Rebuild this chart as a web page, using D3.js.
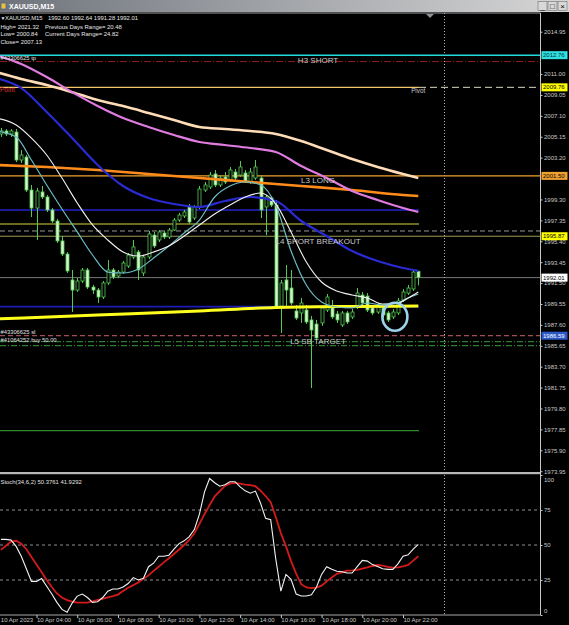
<!DOCTYPE html>
<html><head><meta charset="utf-8">
<script src="https://cdn.jsdelivr.net/npm/d3@7"></script>
<style>html,body{margin:0;padding:0;background:#000;overflow:hidden}text{font-family:"Liberation Sans",Arial,sans-serif}</style>
</head><body><svg id="c" width="569" height="625"></svg>
<script>
// ---------------- DATA ----------------
const symbol = "XAUUSD,M15";
const openP = [2005.41,2005.69,2005.41,2005.59,2002.98,2003.26,2000.18,1998.50,2000.00,1999.53,
1998.32,1997.29,1995.43,1994.21,1991.79,1990.85,1991.69,1992.72,1991.13,1990.85,
1990.20,1991.51,1992.72,1992.16,1992.53,1993.09,1993.93,1994.40,1992.44,1993.93,
1995.98,1995.52,1996.17,1995.80,1996.45,1997.38,1997.76,1998.60,1997.57,1998.60,
2000.18,2000.46,2001.68,2000.65,2001.40,2001.12,2001.86,2001.58,2001.77,2000.93,
2001.30,2001.30,1998.60,1999.44,1998.78,1989.36,1991.79,1991.04,1988.90,1988.71,
1988.99,1988.06,1987.68,1987.78,1988.99,1989.18,1988.62,1987.59,1988.71,1988.34,
1989.27,1990.39,1990.29,1989.18,1988.80,1989.18,1988.71,1988.34,1988.71,1989.92,
1990.57,1990.95,1992.60];
const highP = [2005.97,2005.87,2005.87,2005.87,2003.91,2003.45,2000.65,2000.37,2000.56,1999.72,
1998.50,1997.48,1995.89,1994.40,1992.72,1991.97,1992.91,1992.91,1991.32,1991.04,
1991.69,1993.65,1992.91,1992.72,1993.56,1994.30,1995.52,1994.58,1994.12,1996.36,
1996.27,1996.45,1996.36,1996.64,1997.57,1998.04,1998.32,1998.88,1998.78,2000.56,
2000.93,2001.86,2002.05,2001.58,2001.86,2002.33,2002.14,2002.89,2002.05,2002.23,
2002.98,2001.58,1999.72,1999.62,1999.25,1991.79,1993.19,1992.72,1989.45,1990.11,
1989.45,1988.43,1988.06,1989.36,1990.48,1989.92,1988.90,1988.90,1988.90,1989.08,
1991.04,1990.67,1990.57,1989.36,1989.64,1989.36,1988.90,1989.08,1990.11,1990.95,
1991.32,1992.81,1992.64];
const lowP = [2005.13,2005.22,2005.13,2002.79,2002.70,2000.00,1997.66,1995.52,1999.34,1998.13,
1997.11,1995.24,1994.02,1992.44,1988.80,1990.67,1991.51,1990.95,1990.48,1989.64,
1990.01,1991.32,1991.88,1991.97,1992.35,1992.91,1993.74,1991.79,1992.16,1993.74,
1994.77,1995.33,1995.61,1995.61,1996.36,1997.20,1997.57,1997.01,1997.38,1998.41,
2000.00,2000.28,2000.46,2000.46,2000.74,2000.93,2001.12,2001.40,2000.84,2000.74,
2001.12,1997.57,1995.98,1998.60,1989.18,1986.84,1989.18,1989.45,1988.06,1987.78,
1987.68,1981.71,1986.19,1987.50,1988.80,1988.15,1987.78,1987.40,1987.68,1988.15,
1989.08,1989.36,1988.80,1988.52,1988.62,1988.24,1987.87,1988.15,1988.52,1989.73,
1990.39,1990.76,1991.28];
const closeP = [2005.69,2005.41,2005.69,2002.98,2003.45,2000.18,1998.50,2000.09,1999.53,1998.32,
1997.29,1995.43,1994.21,1992.63,1990.85,1991.69,1992.72,1991.13,1990.85,1990.20,
1991.51,1992.72,1992.07,1992.53,1993.37,1994.12,1994.87,1992.72,1993.93,1996.08,
1994.96,1996.27,1995.80,1996.45,1997.38,1997.85,1998.13,1997.20,1998.60,2000.28,
2000.65,2001.58,2000.65,2001.30,2000.93,2002.05,2001.30,2002.33,2000.93,2001.86,
2002.33,1998.32,1999.53,1998.78,1989.27,1991.51,1990.85,1989.64,1988.24,1989.64,
1987.87,1987.12,1986.38,1989.18,1990.20,1988.34,1988.06,1988.71,1987.87,1988.80,
1990.57,1989.64,1988.99,1988.71,1989.45,1988.52,1988.06,1988.80,1989.83,1990.67,
1991.04,1992.53,1992.01];

// moving averages, read at bar indices (index 0 = 10 Apr 02:15)
const slowIdx = [-1,4,9,14,19,24,29,34,39,44,49,54,59,64,69,74,79,82];
const peachMA = [2011.19,2010.54,2009.98,2009.31,2008.57,2008.01,2007.37,2006.71,2006.06,2005.87,2005.69,2005.41,2004.75,2003.91,2003.07,2002.33,2001.67,2001.30];
const violetMA = [2012.78,2011.94,2010.72,2009.31,2008.02,2006.90,2006.06,2005.31,2004.66,2004.38,2004.10,2003.73,2002.42,2001.30,2000.09,1999.25,1998.50,1998.13];
const blueMA = [2010.63,2009.69,2007.46,2005.03,2002.52,2000.56,1999.44,1998.88,1998.60,1999.16,1999.53,1999.16,1997.29,1995.89,1994.49,1993.56,1992.91,1992.63];
const orangeIdx = [-1,9,19,29,39,49,59,69,79,82];
const orangeMA = [2002.52,2002.33,2002.05,2001.68,2001.30,2000.93,2000.56,2000.18,1999.72,1999.62];
const fastIdx = [-1,3,6,9,12,15,18,21,24,27,30,33,36,39,42,45,48,51,54,57,60,63,66,69,72,75,78,80,82];
const whiteMA = [2006.90,2006.25,2005.03,2003.45,2001.30,1998.97,1996.92,1995.52,1994.40,1994.02,1994.40,1994.96,1995.89,1996.92,1997.94,1998.78,1999.53,1999.90,1998.88,1996.27,1993.47,1991.60,1990.76,1990.39,1990.11,1989.55,1989.64,1990.11,1990.67];
const tealMA = [2005.69,2005.12,2002.98,2000.65,1998.41,1996.27,1994.12,1992.53,1992.44,1992.81,1993.84,1994.96,1996.17,1997.38,1999.53,2000.56,2000.93,2000.65,1998.78,1994.49,1991.32,1989.74,1989.27,1989.18,1989.64,1989.45,1989.64,1990.11,1990.48];
const yellowIdx = [-1,19,39,54,69,82];
const yellowMA = [1988.15,1988.52,1988.89,1989.22,1989.32,1989.36];

// stochastic (34,6,2)
const stochK = [54,54,53.5,49,42,33,24,24,26,20.5, 15,9,4,2,8.5,13.5,15,12.5,9,9.5,
12.5,17,18.6,18.6,20,22.5,26.7,25,26.2,34.5, 37,42,42,42.7,47,51,53,56,61,72,
88,97.5,94.5,92,93,95.2,95.2,91.5,88.7,87, 88.5,80,69,68,40,17,29,25.5,15,13.6,
13.6,14.5,20,29,34.5,32.6,31.3,30.9,30,30, 34.5,39,38.5,36,34.7,33,32.6,32.6,36.5,42,
43,47,50.38];
const stochD = [46.5,49.5,52.5,53,51,47,41.5,36,30.5,25, 20,15.4,12.5,10.6,9.5,8.8,8.8,8.9,9.8,10.8,
11.5,12.6,13.5,14.6,17.2,19.5,21.3,23.3,25.8,28.3, 31.5,34.5,37.6,40.5,43.6,46.8,50,53.6,58.4,65,
72,78.5,84.7,88.5,92.2,93.8,94.4,93.8,93.2,92.8, 92,88.8,85,80.5,70,58.5,49,38.5,29.5,22,
19.7,19.2,19.5,21,24,26.8,29.4,30.5,31.7,31.9, 32.2,33.2,34.1,35,35.7,35.2,34.4,33.9,34,34.7,
35.8,38.8,41.93];
const stochLevels = [75,50,25];
const stochTicks = [100,75,50,25,0];

// horizontal objects
const hlinePrices = [2012.76,2012.17,2009.76,2001.50,1998.32,1997.01,1996.36,1995.87,1992.01,1989.30,1986.59,1986.03,1985.66,1977.73];
const boxPrices = [2012.76,2009.76,2001.50,1995.87,1992.01,1986.59];
const levelTexts = ["H3 SHORT","L3 LONG","L4 SHORT BREAKOUT","L5 SB TARGET"];
const levelTextPrices = [2012.30,2001.12,1995.43,1986.10];
const orderTexts = ["#43306625 tp","#43306625 sl","#41064252 buy 50.00"];
const orderTextPrices = [2012.50,1986.96,1986.19];
const circleMark = {idx:77.4, price:1988.36};

const priceTicks = [2014.95,2011.00,2009.05,2007.10,2005.15,2003.20,1999.30,1997.35,1995.40,1993.45,1991.50,1989.55,1987.60,1985.65,1983.70,1981.75,1979.80,1977.85,1975.90,1973.95];
const timeLabels = ["10 Apr 2023","10 Apr 04:00","10 Apr 06:00","10 Apr 08:00","10 Apr 10:00","10 Apr 12:00","10 Apr 14:00","10 Apr 16:00","10 Apr 18:00","10 Apr 20:00","10 Apr 22:00"];
const infoLines = [
  ["XAUUSD,M15","1992.60 1992.64 1991.28 1992.01"],
  ["High= 2021.32","Previous Days Range= 20.48"],
  ["Low= 2000.84","Current Days Range= 24.82"],
  ["Close= 2007.13"]
];
const stochTitle = "Stoch(34,6,2) 50.3761 41.9292";

// ---------------- LAYOUT ----------------
const W=569,H=625, axisX=540.5, mainTop=13, mainBot=472, stTop=474, stBot=615;
const svg = d3.select('#c');
const defs = svg.append('defs');
svg.append('rect').attr('width',W).attr('height',H).attr('fill','#000');

const t0 = Date.UTC(2023,3,10,2,15);
const tAt = i => new Date(t0 + i*900000);
const x = d3.scaleUtc().domain([tAt(0), tAt(82)]).range([0.9, 418.3]);
const y = d3.scaleLinear().domain([1975.90, 2014.95]).range([450.3, 31.7]);
const ys = d3.scaleLinear().domain([0,100]).range([stBot, 475]);

defs.append('clipPath').attr('id','cm').append('rect').attr('x',0).attr('y',mainTop).attr('width',axisX).attr('height',mainBot-mainTop);
defs.append('clipPath').attr('id','cs').append('rect').attr('x',0).attr('y',stTop).attr('width',axisX).attr('height',stBot-stTop);

// title bar
const gr = defs.append('linearGradient').attr('id','tb').attr('x1',0).attr('x2',1);
gr.append('stop').attr('offset',0).attr('stop-color','#6f747c');
gr.append('stop').attr('offset',1).attr('stop-color','#d6d6d6');
svg.append('rect').attr('width',W).attr('height',12).attr('fill','url(#tb)');
svg.append('rect').attr('x',1).attr('y',3).attr('width',5).attr('height',6).attr('fill','#e8c040').attr('stroke','#305090').attr('stroke-width',0.6);
svg.append('text').attr('x',9).attr('y',9).attr('fill','#ffffff').attr('font-size',7).attr('font-weight','bold').text(symbol);
['_','□','×'].forEach((g,i)=>{
  const bx = 538 + i*10;
  svg.append('rect').attr('x',bx).attr('y',1.5).attr('width',9).attr('height',9).attr('fill','#d8d8d8').attr('stroke','#707070').attr('stroke-width',0.6);
  svg.append('text').attr('x',bx+4.5).attr('y',9).attr('text-anchor','middle').attr('font-size',8).attr('fill','#000').text(g);
});

// frame
svg.append('line').attr('x1',0).attr('x2',axisX).attr('y1',mainTop).attr('y2',mainTop).attr('stroke','#a0a0a0').attr('stroke-width',1);
svg.append('rect').attr('x',0).attr('y',472).attr('width',axisX).attr('height',2.2).attr('fill','#b8b8b8');
svg.append('line').attr('x1',0).attr('x2',axisX).attr('y1',stBot).attr('y2',stBot).attr('stroke','#a8a8a8');
svg.append('line').attr('x1',axisX).attr('x2',axisX).attr('y1',mainTop).attr('y2',stBot).attr('stroke','#c8c8c8');

// ---------------- MAIN PANEL ----------------
const gm = svg.append('g').attr('clip-path','url(#cm)');
const xEnd = x(tAt(82)) + 0.7;
const hStyles = [
  {c:'#22dcdc',w:1.6,full:true},
  {c:'#8a1c1c',w:1,full:true,d:'7,2,1,2'},
  {c:'#f2c66a',w:1.2,full:false,pivot:true},
  {c:'#f0a030',w:1.3,full:true},
  {c:'#2323c8',w:1.6,full:false},
  {c:'#d6d640',w:1.2,full:false},
  {c:'#9a9a9a',w:1,full:true,d:'5,3'},
  {c:'#9a9a55',w:1.2,full:true},
  {c:'#777777',w:1,full:true},
  {c:'#1c1cb4',w:1.6,full:false},
  {c:'#c8606e',w:1,full:true,d:'5,3'},
  {c:'#3a9a3a',w:1,full:true,d:'6,2,1,2'},
  {c:'#3a9a3a',w:1,full:true,d:'6,2,1,2'},
  {c:'#2e8a2e',w:1.2,full:false}
];
hlinePrices.forEach((p,i)=>{
  const s = hStyles[i];
  gm.append('line').attr('x1',0).attr('x2', s.full ? axisX : xEnd)
    .attr('y1',y(p)).attr('y2',y(p)).attr('stroke',s.c).attr('stroke-width',s.w)
    .attr('stroke-dasharray', s.d || null);
  if (s.pivot) {
    gm.append('line').attr('x1',xEnd).attr('x2',axisX).attr('y1',y(p)).attr('y2',y(p))
      .attr('stroke','#d8d8c0').attr('stroke-width',1).attr('stroke-dasharray','7,4');
  }
});

// separator (11 Apr 00:00)
const sepX = Math.round(x(new Date(Date.UTC(2023,3,11,0,0)))) + 0.5;
svg.append('line').attr('x1',sepX).attr('x2',sepX).attr('y1',mainTop).attr('y2',stBot)
  .attr('stroke','#b0b0b0').attr('stroke-width',1).attr('stroke-dasharray','1,2');

// candles
const bars = openP.map((o,i)=>({t:tAt(i),o,h:highP[i],l:lowP[i],c:closeP[i]}));
const candleStroke = '#55c855';
const cg = gm.append('g');
bars.forEach(b=>{
  const cx = Math.round(x(b.t)) + 0.5;
  cg.append('line').attr('x1',cx).attr('x2',cx).attr('y1',y(b.h)).attr('y2',y(b.l)).attr('stroke',candleStroke).attr('stroke-width',1);
  const top = y(Math.max(b.o,b.c)), bot = y(Math.min(b.o,b.c));
  cg.append('rect').attr('x',cx-1.5).attr('y',top).attr('width',3).attr('height',Math.max(0.8,bot-top))
    .attr('fill', b.c < b.o ? '#d2f6c8' : '#000').attr('stroke',candleStroke).attr('stroke-width',0.8);
});

// moving averages
const lineGen = d3.line().x(d=>x(tAt(d.i))).y(d=>y(d.v)).curve(d3.curveMonotoneX);
const mas = [
  {idx:orangeIdx, v:orangeMA, c:'#ff8c1a', w:2.6},
  {idx:slowIdx, v:peachMA, c:'#ffdcb8', w:2.6},
  {idx:slowIdx, v:violetMA, c:'#e07ce0', w:2.2},
  {idx:slowIdx, v:blueMA, c:'#2a2ad2', w:2.2},
  {idx:yellowIdx, v:yellowMA, c:'#ffff1e', w:3},
  {idx:fastIdx, v:tealMA, c:'#6cbcc4', w:1.2},
  {idx:fastIdx, v:whiteMA, c:'#f2f2f2', w:1.1}
];
mas.forEach(m=>{
  gm.append('path').datum(m.idx.map((i,k)=>({i, v:m.v[k]})))
    .attr('d',lineGen).attr('fill','none').attr('stroke',m.c).attr('stroke-width',m.w);
});

// circle annotation
gm.append('ellipse').attr('cx',x(tAt(circleMark.idx))).attr('cy',y(circleMark.price)).attr('rx',12.5).attr('ry',14)
  .attr('fill','none').attr('stroke','#9cd2ea').attr('stroke-width',2.6);

// level texts
const ltX = x(tAt(62.3));
levelTexts.forEach((t,i)=>{
  gm.append('text').attr('x',ltX).attr('y',y(levelTextPrices[i])).attr('dy','0.35em').attr('text-anchor','middle')
    .attr('font-size',8).attr('fill','#c8c8c8').text(t);
});
gm.append('text').attr('x',x(tAt(80.6))).attr('y',y(2009.42)).attr('dy','0.35em').attr('font-size',6.3).attr('fill','#c8c8c8').text('Pivot');
gm.append('text').attr('x',0).attr('y',y(2009.51)).attr('dy','0.35em').attr('font-size',6.5).attr('fill','#e03030').text('Point');
orderTexts.forEach((t,i)=>{
  gm.append('text').attr('x',0.5).attr('y',y(orderTextPrices[i])).attr('dy','0.35em').attr('font-size',5.8).attr('fill','#e0e0e0').text(t);
});

// info text
const info = svg.append('g').attr('font-size',5.9).attr('fill','#e8e8e8');
info.append('text').attr('x',0.5).attr('y',20).attr('font-size',5).text('▼');
info.append('text').attr('x',5).attr('y',20).text(infoLines[0][0]);
info.append('text').attr('x',48).attr('y',20).text(infoLines[0][1]);
info.append('text').attr('x',0.5).attr('y',28.5).text(infoLines[1][0]);
info.append('text').attr('x',45).attr('y',28.5).text(infoLines[1][1]);
info.append('text').attr('x',0.5).attr('y',36.3).text(infoLines[2][0]);
info.append('text').attr('x',45).attr('y',36.3).text(infoLines[2][1]);
info.append('text').attr('x',0.5).attr('y',44.2).text(infoLines[3][0]);

// chart shift marker
svg.append('path').attr('d',`M${426},${14} L${434},${14} L${430},${18} Z`).attr('fill','#909090');

// ---------------- PRICE AXIS ----------------
const pa = svg.append('g').attr('transform',`translate(${axisX},0)`)
  .call(d3.axisRight(y).tickValues(priceTicks).tickSize(2).tickFormat(d3.format('.2f')));
pa.select('.domain').remove();
pa.selectAll('line').attr('stroke','#c8c8c8');
pa.selectAll('text').attr('x',3.5).attr('fill','#c8c8c8').attr('font-size',6).attr('font-family','"Liberation Sans",Arial,sans-serif');

const boxStyles = [
  {bg:'#30e0e0',fg:'#003040'},
  {bg:'#ffff00',fg:'#000'},
  {bg:'#f0a030',fg:'#000'},
  {bg:'#ffff00',fg:'#000'},
  {bg:'#ffffff',fg:'#000'},
  {bg:'#2c58c8',fg:'#fff'}
];
boxPrices.forEach((p,i)=>{
  const s = boxStyles[i];
  svg.append('rect').attr('x',541.5).attr('y',y(p)-4).attr('width',26).attr('height',8).attr('fill',s.bg);
  svg.append('text').attr('x',543).attr('y',y(p)).attr('dy','0.35em').attr('font-size',6).attr('fill',s.fg).text(d3.format('.2f')(p));
});

// ---------------- STOCHASTIC PANEL ----------------
const gs = svg.append('g').attr('clip-path','url(#cs)');
stochLevels.forEach(l=>{
  gs.append('line').attr('x1',0).attr('x2',axisX).attr('y1',ys(l)).attr('y2',ys(l))
    .attr('stroke','#b4b4b4').attr('stroke-dasharray','3,3').attr('stroke-width',0.8);
});
const sLine = d3.line().x((d,i)=>x(tAt(i))).y(d=>ys(d));
gs.append('path').datum(stochD).attr('d',sLine).attr('fill','none').attr('stroke','#d41a1a').attr('stroke-width',1.8);
gs.append('path').datum(stochK).attr('d',sLine).attr('fill','none').attr('stroke','#f4f4f4').attr('stroke-width',1.1);
svg.append('text').attr('x',0.5).attr('y',484).attr('font-size',5.9).attr('fill','#e0e0e0').text(stochTitle);

const sa = svg.append('g').attr('transform',`translate(${axisX},0)`)
  .call(d3.axisRight(ys).tickValues(stochTicks).tickSize(2));
sa.select('.domain').remove();
sa.selectAll('line').attr('stroke','#c8c8c8');
sa.selectAll('text').attr('x',3.5).attr('fill','#c8c8c8').attr('font-size',6).attr('font-family','"Liberation Sans",Arial,sans-serif')
  .attr('y', d => d===100 ? 4.7 : (d===0 ? -4.3 : 0));

// ---------------- TIME AXIS ----------------
const timeTicks = d3.utcHour.every(2).range(new Date(Date.UTC(2023,3,10,2)), new Date(Date.UTC(2023,3,10,23)));
const ta = svg.append('g').attr('transform',`translate(0,${stBot})`)
  .call(d3.axisBottom(x).tickValues(timeTicks).tickSize(3).tickFormat((d,i)=>timeLabels[i]));
ta.select('.domain').remove();
ta.selectAll('line').attr('stroke','#c8c8c8');
ta.selectAll('text').attr('text-anchor','start').attr('x',(d,i)=> i===0 ? 4.5 : 0).attr('y',2.5).attr('fill','#c8c8c8').attr('font-size',6)
  .attr('font-family','"Liberation Sans",Arial,sans-serif');
</script></body></html>
